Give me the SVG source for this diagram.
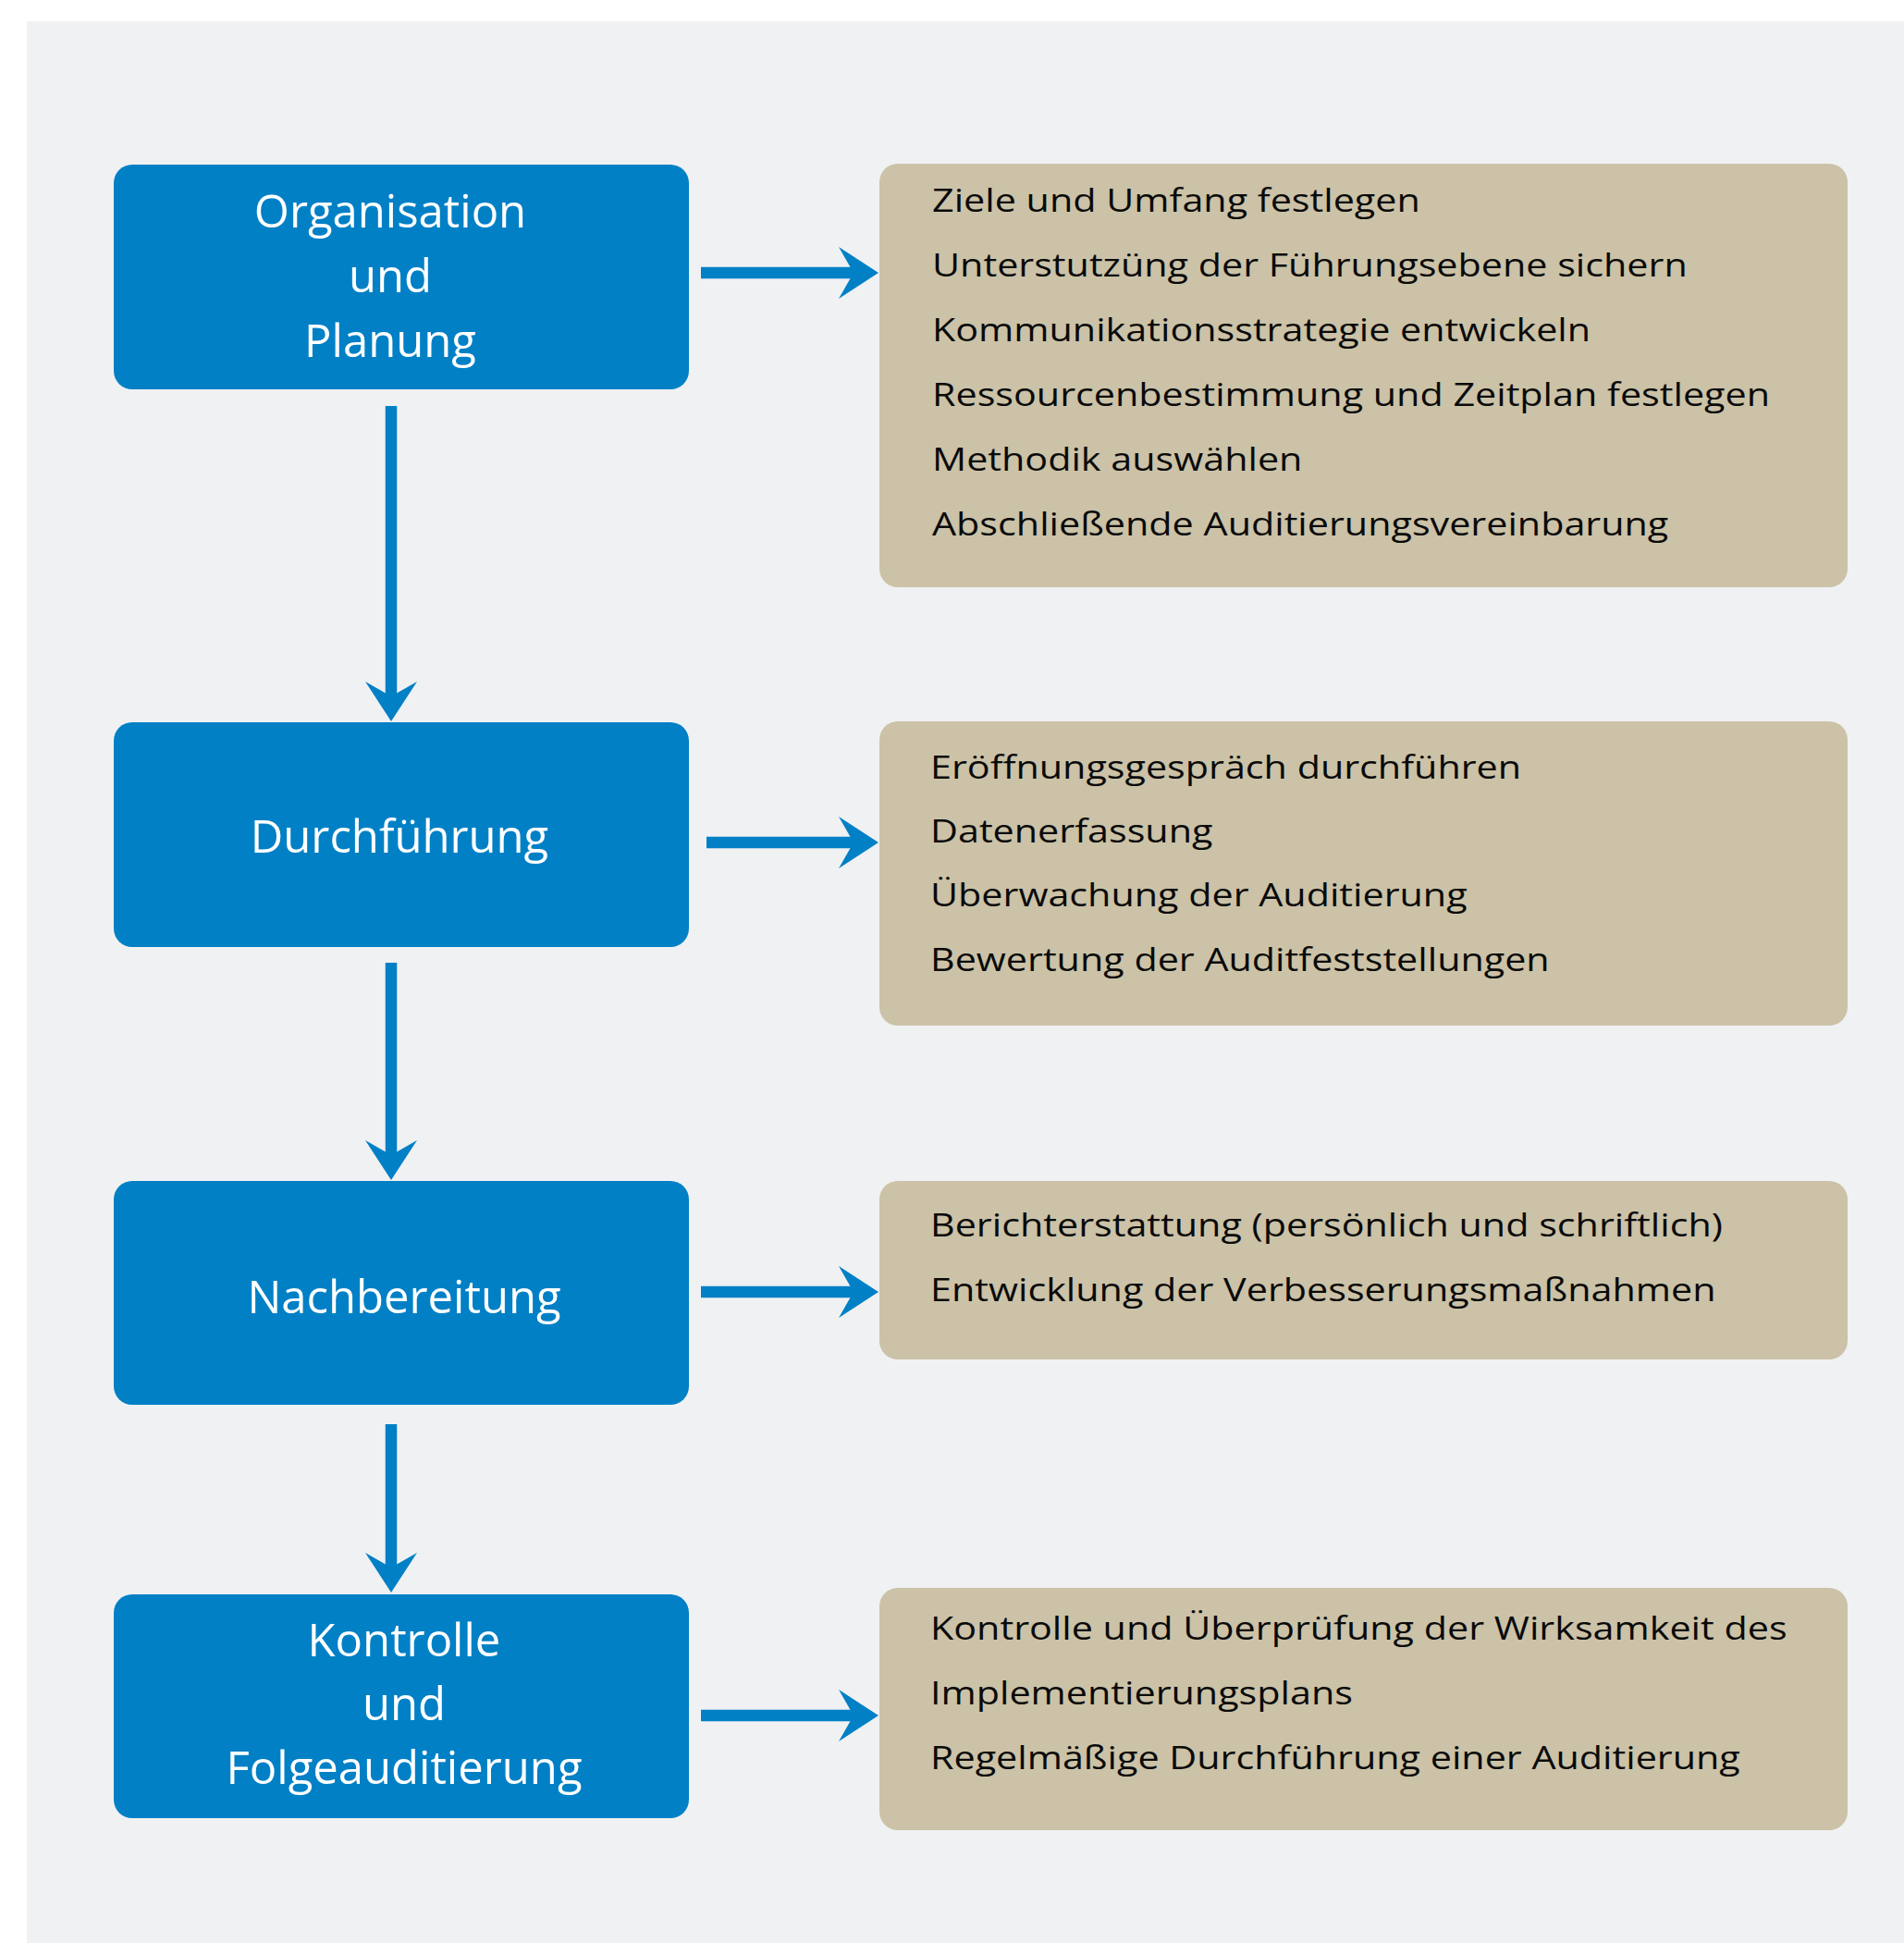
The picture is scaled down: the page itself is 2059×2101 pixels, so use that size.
<svg xmlns="http://www.w3.org/2000/svg" width="2059" height="2101" viewBox="0 0 2059 2101">
<style>
.panel{fill:#F0F1F3}
.step{fill:#0180C6}
.info{fill:#CBC2A7}
.st{font-family:"Open Sans","Noto Sans",sans-serif;font-size:49px;fill:#FFFFFF;text-anchor:middle}
.it{font-family:"Open Sans","Noto Sans",sans-serif;font-size:35px;fill:#0A0A0A}
.conn{stroke:#0180C6;stroke-width:12.5;fill:none}
</style>
<defs>
<marker id="head" markerUnits="userSpaceOnUse" viewBox="-45 -30 46 60" markerWidth="46" markerHeight="60" refX="-27" refY="0" orient="auto">
<path d="M0,0 L-43,-28 L-27,0 L-43,28 Z" fill="#0180C6"/>
</marker>
</defs>
<rect x="0" y="0" width="2059" height="2101" fill="#FFFFFF"/>
<rect class="panel" x="29" y="23" width="2030" height="2078"/>

<g id="connectors">
<line class="conn" x1="423" y1="439" x2="423" y2="753" marker-end="url(#head)"/>
<line class="conn" x1="423" y1="1041" x2="423" y2="1249" marker-end="url(#head)"/>
<line class="conn" x1="423" y1="1540" x2="423" y2="1695" marker-end="url(#head)"/>
<line class="conn" x1="758" y1="295" x2="923" y2="295" marker-end="url(#head)"/>
<line class="conn" x1="764" y1="911" x2="923" y2="911" marker-end="url(#head)"/>
<line class="conn" x1="758" y1="1397" x2="923" y2="1397" marker-end="url(#head)"/>
<line class="conn" x1="758" y1="1855" x2="923" y2="1855" marker-end="url(#head)"/>
</g>

<g id="step1">
<rect class="step" x="123" y="178" width="622" height="243" rx="20"/>
<text class="st" x="422" y="246">Organisation</text>
<text class="st" x="422" y="316">und</text>
<text class="st" x="422" y="386">Planung</text>
</g>
<g id="step2">
<rect class="step" x="123" y="781" width="622" height="243" rx="20"/>
<text class="st" x="432" y="922">Durchführung</text>
</g>
<g id="step3">
<rect class="step" x="123" y="1277" width="622" height="242" rx="20"/>
<text class="st" x="437" y="1420">Nachbereitung</text>
</g>
<g id="step4">
<rect class="step" x="123" y="1724" width="622" height="242" rx="20"/>
<text class="st" x="437" y="1791">Kontrolle</text>
<text class="st" x="437" y="1860">und</text>
<text class="st" x="437" y="1929">Folgeauditierung</text>
</g>

<g id="info1">
<rect class="info" x="951" y="177" width="1047" height="458" rx="20"/>
<g transform="translate(1008 0) scale(1.18 1)">
<text class="it" x="0" y="229">Ziele und Umfang festlegen</text>
<text class="it" x="0" y="299">Unterstutzüng der Führungsebene sichern</text>
<text class="it" x="0" y="369">Kommunikationsstrategie entwickeln</text>
<text class="it" x="0" y="439">Ressourcenbestimmung und Zeitplan festlegen</text>
<text class="it" x="0" y="509">Methodik auswählen</text>
<text class="it" x="0" y="579">Abschließende Auditierungsvereinbarung</text>
</g>
</g>
<g id="info2">
<rect class="info" x="951" y="780" width="1047" height="329" rx="20"/>
<g transform="translate(1006 0) scale(1.18 1)">
<text class="it" x="0" y="842">Eröffnungsgespräch durchführen</text>
<text class="it" x="0" y="911">Datenerfassung</text>
<text class="it" x="0" y="980">Überwachung der Auditierung</text>
<text class="it" x="0" y="1050">Bewertung der Auditfeststellungen</text>
</g>
</g>
<g id="info3">
<rect class="info" x="951" y="1277" width="1047" height="193" rx="20"/>
<g transform="translate(1006 0) scale(1.18 1)">
<text class="it" x="0" y="1337">Berichterstattung (persönlich und schriftlich)</text>
<text class="it" x="0" y="1407">Entwicklung der Verbesserungsmaßnahmen</text>
</g>
</g>
<g id="info4">
<rect class="info" x="951" y="1717" width="1047" height="262" rx="20"/>
<g transform="translate(1006 0) scale(1.18 1)">
<text class="it" x="0" y="1773">Kontrolle und Überprüfung der Wirksamkeit des</text>
<text class="it" x="0" y="1843">Implementierungsplans</text>
<text class="it" x="0" y="1913">Regelmäßige Durchführung einer Auditierung</text>
</g>
</g>
</svg>
